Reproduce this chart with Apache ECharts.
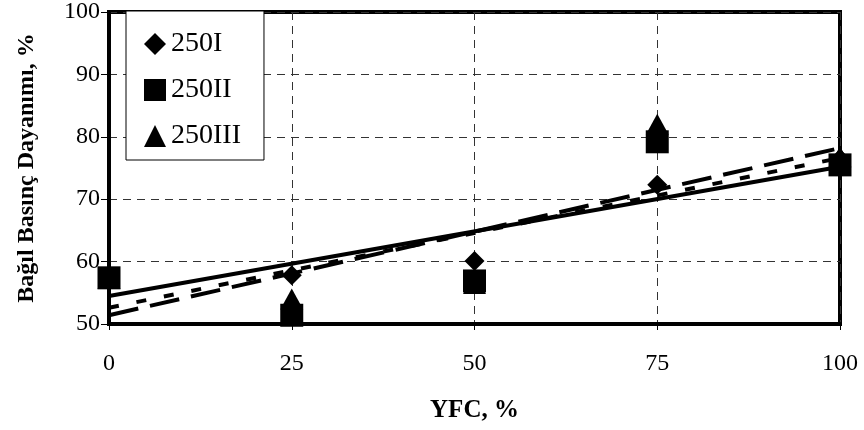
<!DOCTYPE html>
<html>
<head>
<meta charset="utf-8">
<script src="https://cdn.jsdelivr.net/npm/echarts@6/dist/echarts.min.js"></script>
<style>
  html, body { margin: 0; padding: 0; background: #fff; }
  #chart { width: 864px; height: 430px; }
</style>
</head>
<body>
<div id="chart"></div>
<script>
// YFC replacement level (%)
const yfc = [0, 25, 50, 75, 100];

// Relative compressive strength (%) per mix
const s250I   = [57.3, 57.8, 60.1, 72.3, 76.5];
const s250II  = [57.4, 51.4, 56.9, 79.2, 75.5];
const s250III = [57.3, 54.0, 56.5, 82.0, 76.8];

// Linear trend lines: values at YFC = 0 and YFC = 100
const trendX     = [0, 100];
const trendI     = [54.5, 75.2];
const trendII    = [52.6, 76.6];
const trendIII   = [51.4, 78.2];

const xTicks = [0, 25, 50, 75, 100];
const yTicks = [50, 60, 70, 80, 90, 100];

const serif = '"Liberation Serif", "Times New Roman", serif';

const pairs = (xs, ys) => xs.map((x, i) => [x, ys[i]]);

const chart = echarts.init(document.getElementById('chart'), null, { renderer: 'canvas' });

const trendLine = (name, ys, dash) => ({
  name: name,
  type: 'line',
  data: pairs(trendX, ys),
  symbol: 'none',
  silent: true,
  z: 3,
  lineStyle: { color: '#000', width: 4, type: dash, opacity: 1 }
});

const marks = (name, ys, symbol, size) => ({
  name: name,
  type: 'scatter',
  data: pairs(yfc, ys),
  symbol: symbol,
  symbolSize: size,
  z: 4,
  itemStyle: { color: '#000', opacity: 1, borderWidth: 0 }
});

chart.setOption({
  animation: false,
  backgroundColor: '#fff',
  grid: {
    left: 109, right: 24, top: 12, bottom: 106,
    outerBoundsMode: 'none',
    containLabel: false,
    show: true, borderColor: '#000', borderWidth: 4, backgroundColor: 'transparent'
  },
  legend: {
    orient: 'vertical',
    left: 126, top: 11,
    padding: [19, 23, 10, 18],
    itemGap: 18,
    itemWidth: 22, itemHeight: 22,
    backgroundColor: '#fff',
    borderColor: '#000', borderWidth: 1,
    textStyle: { fontFamily: serif, fontSize: 28, color: '#000', lineHeight: 22 },
    data: [
      { name: '250I', icon: 'diamond', itemStyle: { color: '#000', opacity: 1 } },
      { name: '250II', icon: 'rect', itemStyle: { color: '#000', opacity: 1 } },
      { name: '250III', icon: 'triangle', itemStyle: { color: '#000', opacity: 1 } }
    ]
  },
  xAxis: {
    type: 'value',
    min: xTicks[0], max: xTicks[xTicks.length - 1], interval: 25,
    name: 'YFC, %',
    nameLocation: 'middle',
    nameGap: 74,
    nameTextStyle: { fontFamily: serif, fontSize: 25, fontWeight: 'bold', color: '#000' },
    axisLine: { show: true, lineStyle: { color: '#000', width: 4 } },
    axisTick: { show: true, length: 6, lineStyle: { color: '#000', width: 1 } },
    axisLabel: { fontFamily: serif, fontSize: 24, color: '#000', margin: 28 },
    splitLine: { show: true, lineStyle: { color: '#333', width: 1, type: [8, 6] } }
  },
  yAxis: {
    type: 'value',
    min: yTicks[0], max: yTicks[yTicks.length - 1], interval: 10,
    name: 'Bağıl Basınç Dayanımı, %',
    nameLocation: 'middle',
    nameGap: 70,
    nameTextStyle: { fontFamily: serif, fontSize: 24, fontWeight: 'bold', color: '#000' },
    axisLine: { show: true, lineStyle: { color: '#000', width: 4 } },
    axisTick: { show: true, length: 8, lineStyle: { color: '#000', width: 1 } },
    axisLabel: { fontFamily: serif, fontSize: 24, color: '#000', margin: 9 },
    splitLine: { show: true, lineStyle: { color: '#333', width: 1, type: [8, 6] } }
  },
  series: [
    trendLine('trend 250I', trendI, 'solid'),
    trendLine('trend 250II', trendII, [10, 18]),
    trendLine('trend 250III', trendIII, [30, 12]),
    marks('250I', s250I, 'diamond', [20, 20]),
    marks('250II', s250II, 'rect', [23, 23]),
    marks('250III', s250III, 'triangle', [23, 21])
  ]
});
</script>
</body>
</html>
